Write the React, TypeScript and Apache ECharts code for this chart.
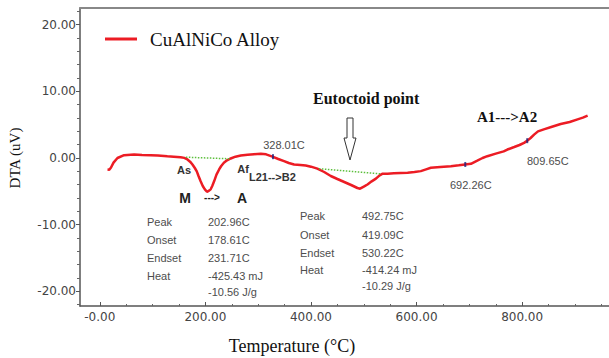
import React, { useEffect, useRef } from "react";
import * as echarts from "echarts";

// DTA curve (temperature °C, DTA uV)
const temps = [14.6, 18, 21, 26, 33.5, 46, 65, 80, 96.6, 110, 128, 140, 153, 160, 166, 171, 175.5, 180, 183.7, 187, 191, 195, 199, 203, 207, 210, 213, 216.5, 221, 226, 230, 235, 241, 248, 257, 267, 280, 292, 305, 315, 327, 338, 349, 358, 368, 380, 390, 400, 412, 425, 437.5, 450, 463, 476, 488, 493, 500, 507, 515, 523, 530, 535, 545, 557, 570, 583, 596, 608, 618, 627, 645, 665, 680, 692, 703, 715, 725, 734, 750, 765, 772, 785, 795, 803.6, 810, 816, 822.6, 830, 841, 855, 873, 890, 905, 915, 924];
const dta = [-1.72, -1.75, -1.47, -0.7, 0, 0.42, 0.52, 0.45, 0.42, 0.38, 0.27, 0.2, 0.12, 0.02, -0.22, -0.55, -0.97, -1.5, -2.0, -2.7, -3.5, -4.2, -4.7, -5.07, -4.9, -4.7, -4.2, -3.5, -2.5, -1.72, -1.2, -0.72, -0.35, -0.07, 0.2, 0.37, 0.5, 0.58, 0.63, 0.55, 0.2, -0.15, -0.48, -0.75, -0.97, -1.05, -1.12, -1.3, -1.6, -2.1, -2.7, -3.15, -3.6, -4.05, -4.5, -4.6, -4.3, -3.97, -3.5, -3.1, -2.6, -2.37, -2.35, -2.3, -2.25, -2.2, -2.1, -1.97, -1.7, -1.47, -1.35, -1.22, -1.1, -0.97, -0.87, -0.4, 0.0, 0.27, 0.65, 1.0, 1.27, 1.65, 1.95, 2.27, 2.6, 3.0, 3.5, 4.0, 4.3, 4.65, 5.1, 5.4, 5.8, 6.05, 6.35];

// baselines of the two peaks
const baseline1 = [[163, 0.12], [248, -0.12]];
const baseline2 = [[415, -1.6], [532, -2.37]];

// marked points
const markTemps = [328.01, 692.26, 809.65];
const markValues = [0.2, -0.97, 2.6];

const xMajor = [0, 200, 400, 600, 800];
const xMinor = [50, 100, 150, 250, 300, 350, 450, 500, 550, 650, 700, 750, 850, 900, 950];
const yMajor = [-20, -10, 0, 10, 20];
const yMinor = [-22, -18, -16, -14, -12, -8, -6, -4, -2, 2, 4, 6, 8, 12, 14, 16, 18, 22];

const tableLabels = ["Peak", "Onset", "Endset", "Heat"];
const table1 = ["202.96C", "178.61C", "231.71C", "-425.43 mJ", "-10.56 J/g"];
const table2 = ["492.75C", "419.09C", "530.22C", "-414.24 mJ", "-10.29 J/g"];

const SANS = "Liberation Sans, Arial, sans-serif";
const SERIF = "Liberation Serif, Times New Roman, serif";

function txt(text: string, x: number, y: number, opts: any = {}) {
  return {
    type: "text",
    x,
    y,
    silent: true,
    rotation: opts.rotation || 0,
    style: {
      text,
      fill: opts.fill || "#4d4d4d",
      font: `${opts.weight || "normal"} ${opts.size || 11}px ${opts.family || SANS}`,
      align: opts.align || "left",
      verticalAlign: "middle",
    },
  };
}

export default function App() {
  const ref = useRef<HTMLDivElement>(null);
  useEffect(() => {
    if (!ref.current) return;
    const chart = echarts.init(ref.current, undefined, { renderer: "svg" });
    const curve = temps.map((t, i) => [t, dta[i]]);
    const marks = markTemps.map((t, i) => [t, markValues[i]]);

    const tableTexts: any[] = [];
    const ys1 = [222, 240, 258, 276, 292];
    const ys2 = [216, 235, 253, 270, 286];
    tableLabels.forEach((l, i) => {
      tableTexts.push(txt(l, 147, ys1[i]));
      tableTexts.push(txt(l, 300, ys2[i]));
    });
    table1.forEach((v, i) => tableTexts.push(txt(v, 208, ys1[i])));
    table2.forEach((v, i) => tableTexts.push(txt(v, 362, ys2[i])));

    const option: any = {
      animation: false,
      backgroundColor: "#ffffff",
      grid: { left: 80, right: 0, top: 8, bottom: 52 },
      legend: {
        data: ["CuAlNiCo Alloy"],
        left: 105,
        top: 28,
        padding: 0,
        icon: "rect",
        itemWidth: 32,
        itemHeight: 3,
        textStyle: {
          fontFamily: SERIF,
          fontSize: 19,
          color: "#111",
          padding: [0, 0, 0, 8],
          lineHeight: 22,
        },
      },
      xAxis: [
        {
          type: "value",
          min: -37.5,
          max: 964.5,
          position: "bottom",
          axisLine: { show: true, onZero: false, lineStyle: { color: "#555", width: 1.5 } },
          axisTick: { show: true, inside: true, length: 4, customValues: xMajor, lineStyle: { color: "#555" } },
          axisLabel: {
            show: true,
            customValues: xMajor,
            margin: 5,
            fontFamily: "DejaVu Sans",
            fontSize: 12,
            color: "#444",
            formatter: (v: number) => (v === 0 ? "-0.00" : v.toFixed(2)),
          },
          splitLine: { show: false },
        },
        {
          type: "value",
          min: -37.5,
          max: 964.5,
          position: "bottom",
          axisLine: { show: false, onZero: false },
          axisTick: { show: true, inside: true, length: 2, customValues: xMinor, lineStyle: { color: "#666" } },
          axisLabel: { show: false },
          splitLine: { show: false },
        },
        {
          type: "value",
          min: -37.5,
          max: 964.5,
          position: "top",
          axisLine: { show: true, onZero: false, lineStyle: { color: "#888", width: 2 } },
          axisTick: { show: false },
          axisLabel: { show: false },
          splitLine: { show: false },
        },
      ],
      yAxis: [
        {
          type: "value",
          min: -22.2,
          max: 22.5,
          position: "left",
          axisLine: { show: true, onZero: false, lineStyle: { color: "#555", width: 1.5 } },
          axisTick: { show: true, length: 4, customValues: yMajor, lineStyle: { color: "#555" } },
          axisLabel: {
            show: true,
            customValues: yMajor,
            margin: 4,
            fontFamily: "DejaVu Sans",
            fontSize: 12,
            color: "#444",
            formatter: (v: number) => v.toFixed(2),
          },
          splitLine: { show: false },
        },
        {
          type: "value",
          min: -22.2,
          max: 22.5,
          position: "left",
          axisLine: { show: false, onZero: false },
          axisTick: { show: true, length: 3, customValues: yMinor, lineStyle: { color: "#666" } },
          axisLabel: { show: false },
          splitLine: { show: false },
        },
      ],
      series: [
        {
          name: "baseline1",
          type: "line",
          data: baseline1,
          symbol: "none",
          lineStyle: { color: "#5cbf3c", width: 1.5, type: "dotted" },
          z: 3,
        },
        {
          name: "baseline2",
          type: "line",
          data: baseline2,
          symbol: "none",
          lineStyle: { color: "#5cbf3c", width: 1.5, type: "dotted" },
          z: 3,
        },
        {
          name: "CuAlNiCo Alloy",
          type: "line",
          data: curve,
          symbol: "none",
          color: "#ec1c24",
          lineStyle: { color: "#ec1c24", width: 2.5 },
          z: 2,
        },
        {
          name: "marks",
          type: "scatter",
          data: marks,
          symbol: "rect",
          symbolSize: [2, 5],
          itemStyle: { color: "#1a237e" },
          z: 4,
        },
      ],
      graphic: [
        txt("DTA (uV)", 15, 158, { family: SERIF, size: 15, fill: "#111", align: "center", rotation: Math.PI / 2 }),
        txt("Temperature (°C)", 292, 346, { family: SERIF, size: 18, fill: "#111", align: "center" }),
        txt("328.01C", 284, 145, { align: "center" }),
        txt("692.26C", 450, 185),
        txt("809.65C", 527, 161),
        txt("As", 184, 170, { weight: "bold", fill: "#333", align: "center" }),
        txt("Af", 243, 169, { weight: "bold", fill: "#333", align: "center" }),
        txt("L21-->B2", 249, 177, { weight: "bold", fill: "#333" }),
        txt("M", 185, 198, { weight: "bold", size: 14, fill: "#222", align: "center" }),
        txt("--->", 212, 197, { weight: "bold", size: 10, fill: "#222", align: "center" }),
        txt("A", 242, 198, { weight: "bold", size: 14, fill: "#222", align: "center" }),
        txt("Eutoctoid point", 313, 98, { weight: "bold", size: 16, family: SERIF, fill: "#111" }),
        txt("A1--->A2", 477, 117, { weight: "bold", size: 15, family: SERIF, fill: "#111" }),
        {
          type: "polygon",
          silent: true,
          shape: {
            points: [
              [347, 118], [353, 118], [353, 138], [356, 138], [350, 160], [344, 138], [347, 138],
            ],
          },
          style: { fill: "#fff", stroke: "#333", lineWidth: 1 },
        },
        ...tableTexts,
      ],
    };
    chart.setOption(option);
    return () => chart.dispose();
  }, []);
  return (
    <div
      ref={ref}
      style={{ position: "fixed", left: 0, top: 0, width: 609, height: 358, background: "#fff" }}
    />
  );
}
